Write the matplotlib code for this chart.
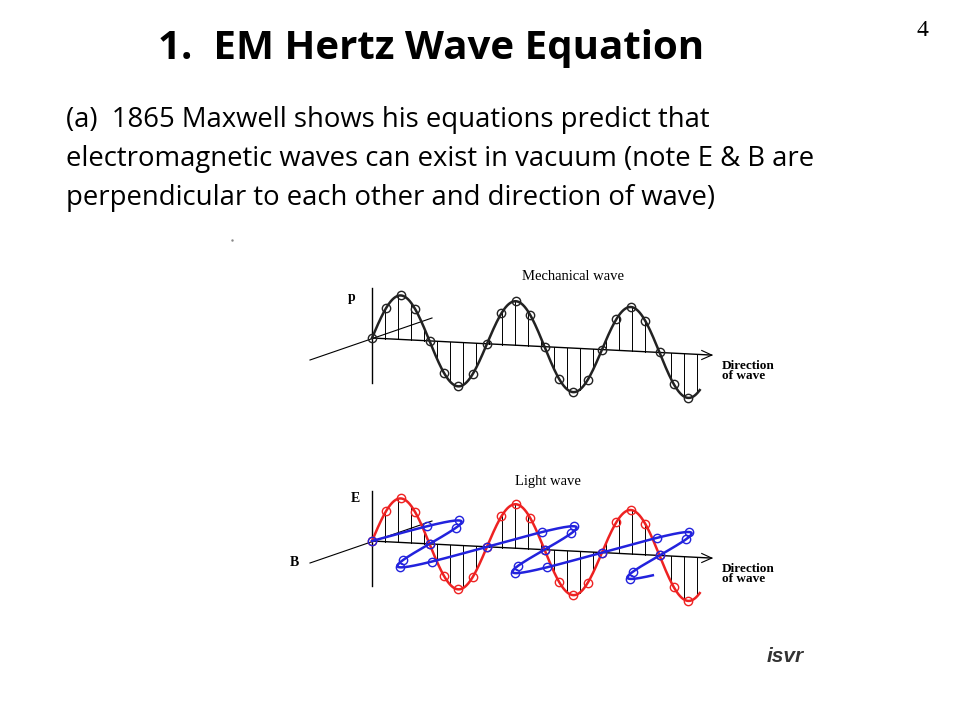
import numpy as np
import matplotlib.pyplot as plt

# slide text
title = "1.  EM Hertz Wave Equation"
page_no = "4"
body = ["(a)  1865 Maxwell shows his equations predict that",
        "electromagnetic waves can exist in vacuum (note E & B are",
        "perpendicular to each other and direction of wave)"]

# wave geometry (pixels)
period = 115
amp_e = 44
n_cycles = 2.85
mech_origin = (372, 338)
light_origin = (372, 541)
base_slope = 17 / 338
b_shift = (58, -22)     # displacement direction of B (oblique axis)
marker_phases = [0, 0.125, 0.25, 0.375, 0.5, 0.625, 0.75, 0.875]
hatch_step = 13

fig = plt.figure(figsize=(9.6, 7.2), dpi=100)
ax = fig.add_axes([0, 0, 1, 1])
ax.set_xlim(0, 960)
ax.set_ylim(720, 0)
ax.axis("off")

ax.text(431, 48, title, ha="center", va="center", fontsize=29, fontweight="bold", family="Open Sans")
ax.text(922, 30, page_no, ha="center", va="center", fontsize=17, family="Liberation Serif")
for i, line in enumerate(body):
    ax.text(66, 120 + 39 * i, line, ha="left", va="center", fontsize=19.8, family="Open Sans")
ax.plot([232], [240], marker=".", ms=1.5, color="#888888")


def draw_wave(x0, y0, color, light=False):
    xs = np.linspace(x0, x0 + n_cycles * period, 600)
    base = y0 + (xs - x0) * base_slope
    ph = 2 * np.pi * (xs - x0) / period
    ye = base - amp_e * np.sin(ph)
    # axes
    ax.plot([x0, x0 + n_cycles * period + 12], [y0, y0 + (n_cycles * period + 12) * base_slope], color="black", lw=1)
    ax.plot([x0, x0], [y0 - 50, y0 + 45], color="black", lw=1)
    ax.plot([310, 432], [y0 + 22, y0 - 20], color="black", lw=0.8)
    ax.plot([x0 + n_cycles * period + 2, x0 + n_cycles * period + 12, x0 + n_cycles * period + 2],
            [y0 + n_cycles * period * base_slope - 4, y0 + (n_cycles * period + 12) * base_slope,
             y0 + n_cycles * period * base_slope + 5], color="black", lw=0.8)
    # hatching
    for hx in np.arange(x0 + hatch_step, x0 + n_cycles * period, hatch_step):
        hb = y0 + (hx - x0) * base_slope
        hy = hb - amp_e * np.sin(2 * np.pi * (hx - x0) / period)
        ax.plot([hx, hx], [hb, hy], color="black", lw=0.7)
    ax.plot(xs, ye, color=color, lw=1.8)
    mk = [c + p for c in range(3) for p in marker_phases if c + p <= n_cycles]
    mx = np.array([x0 + m * period for m in mk])
    mb = y0 + (mx - x0) * base_slope
    my = mb - amp_e * np.sin(2 * np.pi * np.array(mk))
    ax.plot(mx, my, "o", mfc="none", mec=color, ms=6, mew=1)
    if light:
        s = np.sin(ph)
        bx = xs + b_shift[0] * s
        by = base + b_shift[1] * s
        ax.plot(bx, by, color="#2222dd", lw=1.8)
        sm = np.sin(2 * np.pi * np.array(mk))
        ax.plot(mx + b_shift[0] * sm, mb + b_shift[1] * sm, "o", mfc="none", mec="#2222dd", ms=6, mew=1)


draw_wave(*mech_origin, "#222222")
draw_wave(*light_origin, "#ee2222", light=True)

serif = "Liberation Serif"
ax.text(573, 276, "Mechanical wave", ha="center", va="center", fontsize=10.5, family=serif)
ax.text(352, 297, "p", ha="center", va="center", fontsize=10, family=serif, fontweight="bold")
ax.text(722, 371, "Direction\nof wave", ha="left", va="center", fontsize=9.5, family=serif, fontweight="bold", linespacing=0.8)
ax.text(548, 481, "Light wave", ha="center", va="center", fontsize=10.5, family=serif)
ax.text(355, 498, "E", ha="center", va="center", fontsize=10, family=serif, fontweight="bold")
ax.text(294, 562, "B", ha="center", va="center", fontsize=10, family=serif, fontweight="bold")
ax.text(722, 574, "Direction\nof wave", ha="left", va="center", fontsize=9.5, family=serif, fontweight="bold", linespacing=0.8)
ax.text(785, 656, "isvr", ha="center", va="center", fontsize=15, fontweight="bold", style="italic",
        family="Liberation Sans", color="#333333")

fig.savefig("out.png", dpi=100)
